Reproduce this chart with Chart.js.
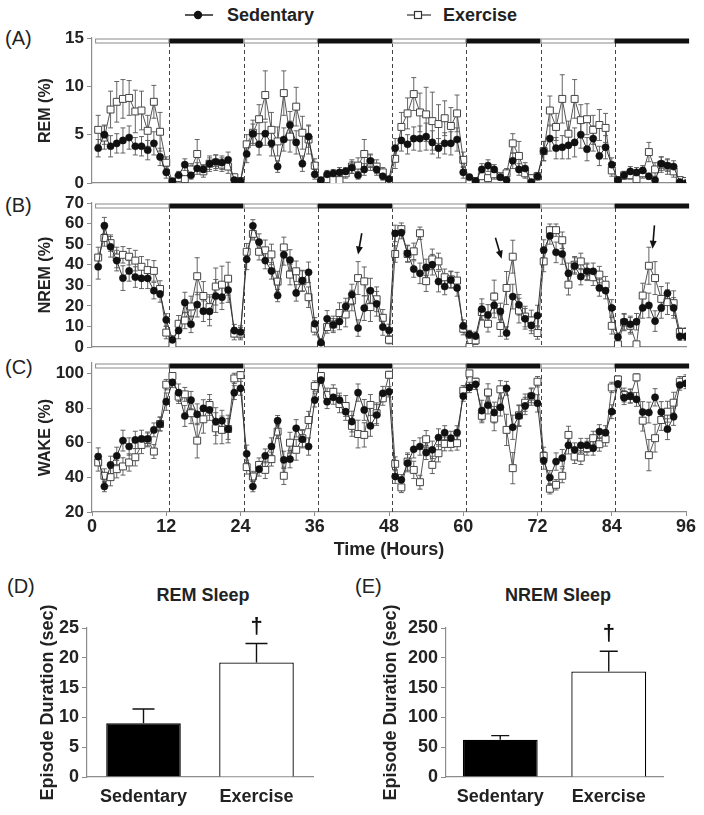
<!DOCTYPE html>
<html>
<head>
<meta charset="utf-8">
<script src="https://cdn.jsdelivr.net/npm/chart.js@4.4.1/dist/chart.umd.min.js"></script>
<style>
  body { margin: 0; background: #fff; font-family: "Liberation Sans", Arial, sans-serif; color: #222; }
  #page { position: relative; width: 704px; height: 815px; overflow: hidden; }
  canvas, .txt, svg { position: absolute; }
  .txt { line-height: 1; white-space: nowrap; }
  .panel { font-size: 20px; }
  .bold { font-size: 18px; font-weight: bold; }
</style>
</head>
<body>
<div id="page">
  <svg style="left:183px;top:5px" width="32" height="20"><line x1="2" y1="10" x2="30" y2="10" stroke="#222" stroke-width="1.5"/><circle cx="15" cy="10" r="4.2" fill="#111"/></svg>
  <div class="txt bold" style="left:227px;top:6px">Sedentary</div>
  <svg style="left:405px;top:5px" width="28" height="20"><line x1="2" y1="10" x2="26" y2="10" stroke="#333" stroke-width="1.2"/><rect x="9.5" y="6.5" width="7" height="7" fill="#fff" stroke="#333" stroke-width="1.2"/></svg>
  <div class="txt bold" style="left:443px;top:6px">Exercise</div>

  <div class="txt panel" style="left:5px;top:28px">(A)</div>
  <div class="txt panel" style="left:5px;top:195px">(B)</div>
  <div class="txt panel" style="left:5px;top:357px">(C)</div>
  <div class="txt panel" style="left:7px;top:576px">(D)</div>
  <div class="txt panel" style="left:355px;top:576px">(E)</div>
  <div class="txt bold" style="left:103px;top:586px;width:200px;text-align:center">REM Sleep</div>
  <div class="txt bold" style="left:458px;top:586px;width:200px;text-align:center">NREM Sleep</div>

  <canvas id="remChart" style="left:0;top:20px" width="704" height="170"></canvas>
  <canvas id="nremChart" style="left:0;top:185px" width="704" height="170"></canvas>
  <canvas id="wakeChart" style="left:0;top:348px" width="704" height="217"></canvas>
  <canvas id="remBar" style="left:0;top:600px" width="330" height="215"></canvas>
  <canvas id="nremBar" style="left:350px;top:600px" width="354" height="215"></canvas>
</div>
<script>
const hours = [1, 2, 3, 4, 5, 6, 7, 8, 9, 10, 11, 12, 13, 14, 15, 16, 17, 18, 19, 20, 21, 22, 23, 24,
    25, 26, 27, 28, 29, 30, 31, 32, 33, 34, 35, 36, 37, 38, 39, 40, 41, 42, 43, 44, 45, 46, 47, 48,
    49, 50, 51, 52, 53, 54, 55, 56, 57, 58, 59, 60, 61, 62, 63, 64, 65, 66, 67, 68, 69, 70, 71, 72,
    73, 74, 75, 76, 77, 78, 79, 80, 81, 82, 83, 84, 85, 86, 87, 88, 89, 90, 91, 92, 93, 94, 95, 96];
const hourTicks = [0, 12, 24, 36, 48, 60, 72, 84, 96];
const phaseEdges = [0.5, 12.5, 24.5, 36.5, 48.5, 60.5, 72.5, 84.5, 96.5];
const phaseNames = ['light', 'dark', 'light', 'dark', 'light', 'dark', 'light', 'dark'];

// REM (%)
const remSed = [3.6, 5.0, 3.8, 4.1, 4.4, 4.7, 3.8, 3.8, 3.4, 4.1, 2.7, 1.1,
    0.2, 0.8, 1.9, 0.8, 1.5, 1.4, 2.0, 2.2, 2.1, 2.4, 0.3, 0.2,
    3.0, 5.1, 4.0, 5.1, 4.1, 1.7, 4.5, 6.0, 4.2, 2.0, 4.8, 0.9,
    0.3, 0.9, 1.0, 1.1, 1.2, 1.6, 0.8, 1.4, 2.3, 1.4, 0.7, 0.4,
    3.6, 4.4, 4.0, 4.6, 4.6, 4.8, 4.2, 3.6, 4.1, 4.1, 4.5, 1.1,
    0.6, 0.2, 1.4, 1.8, 1.4, 0.6, 0.3, 2.3, 1.4, 1.5, 0.1, 0.7,
    3.3, 4.6, 3.6, 3.7, 3.9, 4.2, 5.0, 3.5, 4.6, 2.8, 3.7, 1.9,
    0.3, 0.8, 1.2, 1.1, 1.3, 0.7, 0.3, 2.0, 1.8, 1.7, 0.1, 0.0];
const remSedErr = [0.9, 1.0, 1.1, 1.0, 1.3, 1.2, 0.9, 1.0, 1.0, 1.2, 0.9, 0.6,
    0.2, 0.4, 0.6, 0.4, 0.6, 0.5, 0.6, 0.7, 0.7, 0.8, 0.2, 0.2,
    0.9, 1.0, 1.1, 1.2, 1.3, 0.6, 1.2, 1.4, 1.2, 0.8, 1.1, 0.5,
    0.2, 0.4, 0.4, 0.5, 0.4, 0.6, 0.4, 0.6, 0.7, 0.6, 0.4, 0.2,
    1.0, 1.1, 1.0, 1.2, 1.3, 1.4, 1.2, 1.0, 1.1, 1.2, 1.2, 0.6,
    0.3, 0.2, 0.6, 0.6, 0.5, 0.3, 0.2, 0.8, 0.6, 0.6, 0.1, 0.4,
    1.0, 1.3, 1.1, 1.2, 1.4, 1.5, 1.4, 1.2, 1.3, 1.0, 1.2, 0.7,
    0.2, 0.4, 0.5, 0.5, 0.5, 0.3, 0.2, 0.7, 0.6, 0.6, 0.1, 0.1];
const remEx = [5.5, 4.7, 7.6, 8.4, 8.7, 8.8, 7.4, 7.5, 5.4, 8.4, 5.3, 2.1,
    0.1, 0.5, 0.4, 1.4, 3.0, 1.2, 2.0, 2.1, 1.9, 1.7, 0.6, 0.2,
    4.0, 5.2, 6.6, 9.1, 5.5, 4.3, 9.3, 4.8, 7.9, 5.2, 4.5, 1.8,
    0.0, 0.4, 0.3, 0.3, 1.0, 1.7, 1.8, 3.0, 2.1, 1.7, 1.1, 0.2,
    2.5, 5.8, 7.2, 9.2, 7.3, 7.1, 6.4, 6.1, 6.7, 5.9, 7.2, 2.4,
    0.1, 0.2, 0.7, 0.5, 0.9, 0.7, 1.0, 4.1, 2.8, 1.0, 0.5, 0.7,
    3.3, 7.5, 5.8, 8.7, 5.1, 8.7, 6.5, 6.6, 5.5, 6.0, 5.7, 1.3,
    0.3, 0.8, 0.8, 0.4, 1.0, 3.2, 1.4, 1.9, 1.7, 1.2, 0.3, 0.2];
const remExErr = [1.5, 1.2, 1.9, 2.1, 2.0, 1.8, 2.2, 2.0, 1.6, 1.7, 2.0, 0.6,
    0.1, 0.3, 0.3, 0.6, 1.5, 0.6, 0.8, 0.8, 0.7, 0.7, 0.3, 0.1,
    1.0, 1.3, 1.5, 2.5, 1.8, 1.5, 2.3, 1.6, 2.0, 1.7, 1.5, 0.7,
    0.1, 0.2, 0.2, 0.3, 0.5, 0.7, 0.8, 1.5, 0.8, 0.7, 0.5, 0.1,
    1.0, 1.5, 1.6, 1.7, 2.0, 2.8, 3.0, 2.0, 1.8, 1.9, 1.9, 0.8,
    0.1, 0.1, 0.3, 0.3, 0.5, 0.3, 0.5, 1.0, 1.5, 0.5, 0.3, 0.3,
    1.0, 1.5, 1.4, 2.5, 1.3, 2.0, 1.6, 1.6, 1.5, 1.6, 1.5, 0.6,
    0.2, 0.4, 0.4, 0.3, 0.5, 1.0, 0.7, 0.8, 0.8, 0.6, 0.2, 0.2];
const remTicks = [0, 5, 10, 15];

// NREM (%)
const nremSed = [39, 59, 48.7, 42, 33.5, 37, 34, 33.4, 33.4, 27.4, 25.8, 13.2,
    3.5, 8, 21.6, 11, 20.6, 17.4, 17.3, 24.8, 24.2, 27.7, 8, 7.3,
    42.6, 58.9, 51, 42, 37, 25, 44.8, 42.3, 26.3, 32.3, 36.3, 11.3,
    2.1, 13.7, 10.8, 12.4, 19.7, 25.5, 9.2, 18.9, 27.4, 21, 9.7, 8.1,
    55.2, 55.6, 45.5, 37.9, 35.8, 38.7, 40, 31.8, 29.4, 32.6, 28.7, 10.2,
    6.1, 5.3, 18.4, 15.6, 20.2, 17.3, 6.8, 24.5, 20.5, 13.7, 10.5, 15.3,
    47.1, 54, 46, 45.2, 35.8, 39.4, 34.2, 36.8, 36.8, 28.7, 27.4, 19,
    4.8, 12.3, 11, 12.3, 19, 20.2, 12.6, 19, 26.1, 19, 5.2, 5.2];
const nremSedErr = [6, 4, 5, 5, 6, 5, 5, 5, 5, 4, 4, 3,
    2, 4, 5, 4, 6, 5, 7, 8, 6, 6, 3, 3,
    5, 3, 4, 4, 4, 3, 5, 5, 4, 5, 5, 3,
    2, 4, 3, 4, 4, 5, 4, 6, 6, 6, 4, 3,
    4, 3, 4, 4, 5, 4, 5, 5, 4, 4, 4, 3,
    2, 2, 5, 5, 6, 4, 3, 6, 5, 5, 4, 5,
    5, 4, 5, 5, 5, 4, 4, 4, 4, 4, 4, 4,
    2, 4, 4, 4, 5, 6, 5, 5, 5, 5, 2, 2];
const nremEx = [43.5, 53, 50.5, 43.5, 44.8, 43.9, 42, 39, 37.4, 37, 28.2, 7,
    1.3, 11.3, 12.9, 19.7, 34.4, 24.8, 19.4, 29.4, 30.3, 33.2, 6.5, 6.5,
    46.3, 55, 46.3, 47, 45, 31.8, 48.4, 35.2, 36.8, 32, 24.2, 8.9,
    0.6, 9.7, 11, 16.5, 15.8, 22.6, 33.5, 31.9, 19.4, 23.2, 14.2, 3.5,
    45.2, 57.3, 45.2, 46.5, 55.3, 32, 42.6, 41.6, 33.9, 32.9, 32.3, 8.9,
    0, 3.2, 17, 11.3, 24.5, 10.2, 28.7, 43.9, 17.7, 14.8, 12.9, 6.8,
    41.6, 56.8, 56.8, 51.9, 30.3, 40, 41.6, 36.3, 33.9, 35.2, 30.3, 10.3,
    1.3, 11.9, 10.3, 1.3, 25, 39.5, 33.5, 23.4, 21.8, 21.3, 7.3, 7.3];
const nremExErr = [5, 4, 4, 5, 4, 4, 5, 5, 5, 5, 4, 3,
    1, 4, 4, 5, 9, 7, 6, 9, 9, 8, 3, 3,
    4, 3, 4, 5, 5, 5, 5, 5, 5, 5, 5, 3,
    1, 3, 4, 5, 6, 5, 8, 7, 7, 6, 4, 2,
    4, 3, 4, 4, 3, 5, 5, 4, 4, 4, 4, 3,
    1, 2, 4, 4, 8, 5, 8, 8, 6, 5, 5, 3,
    5, 3, 3, 4, 5, 4, 4, 4, 4, 4, 4, 4,
    1, 4, 4, 1, 6, 9, 8, 6, 6, 6, 2, 2];
const nremTicks = [0, 10, 20, 30, 40, 50, 60, 70];
// arrows in panel B: [hour, % at tail, hour, % at head]
const nremArrows = [[43.6, 55.3, 43.0, 45.0], [65.2, 53.1, 66.2, 42.9], [90.9, 59.1, 90.6, 47.8]];

// WAKE (%)
const wakeSed = [52, 34.7, 47.2, 52.4, 61.2, 57.8, 61.6, 62.2, 62.2, 67.4, 70.8, 83.7,
    94.8, 88.9, 75.4, 84.6, 76.4, 79.8, 78.9, 72.2, 72.7, 67.9, 88.9, 91.4,
    53.6, 34.7, 44.7, 52.4, 57.8, 72.7, 50.1, 50.5, 68.3, 62, 57.8, 84.6,
    96.2, 83.7, 86.2, 84.6, 77.9, 72.2, 88.9, 78.9, 69.7, 76, 88.5, 89.4,
    40.5, 38.6, 48.2, 56.2, 57.8, 54.3, 55.9, 63, 65.8, 62.6, 65.8, 86.9,
    91.9, 93.7, 78.5, 81.6, 77.4, 80.4, 91.4, 68.9, 75.4, 81.2, 87.1, 82.7,
    49.7, 39.9, 49.1, 51.1, 58.5, 55.9, 58.5, 58.5, 56.8, 66.4, 65.8, 77.9,
    93.9, 86, 86.9, 85, 77.7, 77.4, 86.2, 77.7, 67.8, 75, 93.3, 94.2];
const wakeSedErr = [5, 3, 5, 5, 6, 5, 5, 5, 4, 4, 4, 5,
    3, 5, 6, 5, 6, 5, 6, 8, 6, 6, 4, 4,
    5, 3, 4, 4, 5, 3, 5, 5, 5, 5, 5, 4,
    2, 4, 4, 4, 5, 6, 5, 6, 6, 6, 4, 3,
    4, 3, 5, 5, 5, 4, 5, 5, 4, 4, 4, 3,
    3, 3, 6, 5, 6, 5, 4, 7, 6, 5, 4, 5,
    5, 4, 5, 5, 5, 4, 4, 4, 4, 4, 4, 4,
    2, 4, 4, 4, 6, 6, 5, 6, 6, 5, 3, 3];
const wakeEx = [48.6, 40.9, 40.1, 44.7, 46.3, 48.6, 51.6, 58.7, 61.6, 54.9, 70.8, 93.5,
    98.5, 86.6, 87.9, 77, 61.2, 73.5, 81.8, 68.3, 67.4, 67.9, 97.1, 99,
    45.9, 40.5, 47.2, 44.3, 50.5, 66.4, 40.9, 60, 55.9, 62.6, 73.1, 92.7,
    98.5, 87.5, 89.4, 82.3, 81.2, 69.7, 65, 64.5, 81.8, 77, 85.6, 99.2,
    47.8, 34.2, 49.1, 44.3, 37.2, 62, 47.2, 53.9, 59.3, 59.3, 59.7, 90,
    100, 95.2, 75.5, 89, 73.9, 90.8, 67.4, 45.3, 75.8, 83.1, 86.6, 95.2,
    52.4, 33.4, 35.7, 40.9, 64.5, 52, 51.4, 56.8, 62.6, 59.1, 62, 91.9,
    96.5, 87.5, 86.9, 97.7, 72.7, 52.8, 62.6, 73.1, 77.9, 83.1, 95.2, 96.2];
const wakeExErr = [5, 4, 5, 5, 5, 5, 5, 5, 4, 4, 4, 3,
    1, 4, 4, 6, 10, 8, 6, 9, 8, 8, 3, 2,
    4, 3, 4, 5, 4, 4, 5, 6, 6, 5, 5, 3,
    2, 4, 4, 5, 6, 6, 8, 7, 6, 6, 4, 2,
    4, 3, 5, 5, 4, 5, 5, 5, 4, 4, 4, 3,
    1, 2, 4, 5, 7, 5, 9, 9, 6, 5, 5, 3,
    5, 3, 3, 4, 5, 4, 4, 4, 4, 4, 4, 3,
    2, 4, 4, 2, 6, 9, 8, 6, 6, 6, 3, 3];
const wakeTicks = [20, 40, 60, 80, 100];

// episode durations (sec)
const groups = ['Sedentary', 'Exercise'];
const remDuration = [9.0, 19.2];
const remDurationErr = [2.4, 3.2];
const remDurationTicks = [0, 5, 10, 15, 20, 25];
const nremDuration = [62.5, 177];
const nremDurationErr = [7, 34];
const nremDurationTicks = [0, 50, 100, 150, 200, 250];
const significance = ['', '\u2020'];

Chart.defaults.font.family = '"Liberation Sans", Arial, sans-serif';
Chart.defaults.color = '#222';
Chart.defaults.animation = false;
const axisGray = '#8c8c8c';

// light/dark bar along the top and dashed phase boundaries
const phasePlugin = {
    id: 'phases',
    beforeDatasetsDraw: (chart) => {
        const { ctx, chartArea: a, scales: { x } } = chart;
        ctx.save();
        ctx.setLineDash([4, 3]);
        ctx.strokeStyle = '#444';
        ctx.lineWidth = 1;
        phaseEdges.slice(1, -1).forEach((h) => {
            const px = Math.round(x.getPixelForValue(h)) + 0.5;
            ctx.beginPath();
            ctx.moveTo(px, a.top + 5);
            ctx.lineTo(px, a.bottom);
            ctx.stroke();
        });
        ctx.restore();
    },
    afterDatasetsDraw: (chart) => {
        const { ctx, chartArea: a, scales: { x } } = chart;
        ctx.save();
        phaseNames.forEach((name, i) => {
            const x0 = x.getPixelForValue(phaseEdges[i]);
            const x1 = x.getPixelForValue(phaseEdges[i + 1]);
            if (name === 'dark') {
                ctx.fillStyle = '#111';
                ctx.fillRect(x0, a.top + 0.5, x1 - x0, 5);
            } else {
                ctx.fillStyle = '#fff';
                ctx.fillRect(x0, a.top + 0.5, x1 - x0, 5);
                ctx.strokeStyle = '#8a8a8a';
                ctx.lineWidth = 1;
                ctx.strokeRect(x0 + 0.5, a.top + 1, x1 - x0 - 1, 4);
            }
        });
        ctx.restore();
    }
};

// +/- SEM whiskers behind the points
const errorPlugin = {
    id: 'errorBars',
    beforeDatasetsDraw: (chart) => {
        const { ctx, chartArea: a, scales: { y } } = chart;
        ctx.save();
        ctx.beginPath();
        ctx.rect(a.left, a.top, a.right - a.left, a.bottom - a.top);
        ctx.clip();
        ctx.strokeStyle = '#555';
        ctx.lineWidth = 0.9;
        chart.data.datasets.forEach((ds, di) => {
            chart.getDatasetMeta(di).data.forEach((pt, i) => {
                const v = ds.data[i].y, e = ds.errors[i];
                const top = y.getPixelForValue(v + e), bot = y.getPixelForValue(v - e);
                ctx.beginPath();
                ctx.moveTo(pt.x, top); ctx.lineTo(pt.x, bot);
                ctx.moveTo(pt.x - 2.5, top); ctx.lineTo(pt.x + 2.5, top);
                ctx.moveTo(pt.x - 2.5, bot); ctx.lineTo(pt.x + 2.5, bot);
                ctx.stroke();
            });
        });
        ctx.restore();
    }
};

const arrowPlugin = {
    id: 'arrows',
    afterDatasetsDraw: (chart, args, opts) => {
        const { ctx, scales: { x, y } } = chart;
        ctx.save();
        ctx.strokeStyle = '#111';
        ctx.fillStyle = '#111';
        ctx.lineWidth = 1.6;
        (opts.list || []).forEach(([h0, v0, h1, v1]) => {
            const x0 = x.getPixelForValue(h0), y0 = y.getPixelForValue(v0);
            const x1 = x.getPixelForValue(h1), y1 = y.getPixelForValue(v1);
            const ang = Math.atan2(y1 - y0, x1 - x0);
            ctx.beginPath();
            ctx.moveTo(x0, y0);
            ctx.lineTo(x1 - 5 * Math.cos(ang), y1 - 5 * Math.sin(ang));
            ctx.stroke();
            ctx.beginPath();
            ctx.moveTo(x1, y1);
            ctx.lineTo(x1 - 8 * Math.cos(ang) + 3.5 * Math.sin(ang), y1 - 8 * Math.sin(ang) - 3.5 * Math.cos(ang));
            ctx.lineTo(x1 - 8 * Math.cos(ang) - 3.5 * Math.sin(ang), y1 - 8 * Math.sin(ang) + 3.5 * Math.cos(ang));
            ctx.closePath();
            ctx.fill();
        });
        ctx.restore();
    }
};

// upward error bar + significance mark on the duration bars
const barErrorPlugin = {
    id: 'barErrors',
    afterDatasetsDraw: (chart, args, opts) => {
        const { ctx, scales: { y } } = chart;
        const ds = chart.data.datasets[0];
        ctx.save();
        ctx.strokeStyle = '#111';
        ctx.fillStyle = '#111';
        ctx.lineWidth = 1.4;
        chart.getDatasetMeta(0).data.forEach((bar, i) => {
            const top = y.getPixelForValue(ds.data[i] + opts.errors[i]);
            ctx.beginPath();
            ctx.moveTo(bar.x, bar.y); ctx.lineTo(bar.x, top);
            ctx.moveTo(bar.x - opts.cap, top); ctx.lineTo(bar.x + opts.cap, top);
            ctx.stroke();
            if (opts.marks[i]) {
                ctx.font = 'bold 22px "Liberation Sans", Arial, sans-serif';
                ctx.textAlign = 'center';
                ctx.textBaseline = 'bottom';
                ctx.fillText(opts.marks[i], bar.x, top - 6);
            }
        });
        ctx.restore();
    }
};

// keep the plot area where the layout puts it: no extra room for half tick labels
const noYPad = (w) => (s) => { s.width = w; s.paddingTop = 0; s.paddingBottom = 0; };
const noXPad = (h) => (s) => { s.height = h; s.paddingLeft = 0; s.paddingRight = 0; };

const sleep = {
    init: () => {
        sleep.timeline('remChart', { sed: remSed, sedErr: remSedErr, ex: remEx, exErr: remExErr,
            min: 0, max: 15, ticks: remTicks, title: 'REM (%)', padTop: 18, xHeight: 7, showX: false });
        sleep.timeline('nremChart', { sed: nremSed, sedErr: nremSedErr, ex: nremEx, exErr: nremExErr,
            min: 0, max: 70, ticks: nremTicks, title: 'NREM (%)', padTop: 18, xHeight: 8, showX: false, arrows: nremArrows });
        sleep.timeline('wakeChart', { sed: wakeSed, sedErr: wakeSedErr, ex: wakeEx, exErr: wakeExErr,
            min: 20, max: 106, ticks: wakeTicks, title: 'WAKE (%)', padTop: 15, xHeight: 53, showX: true });
        sleep.duration('remBar', { values: remDuration, errors: remDurationErr, max: 25, ticks: remDurationTicks,
            yWidth: 87, padRight: 17, titlePad: 37, barPct: 0.66, cap: 11 });
        sleep.duration('nremBar', { values: nremDuration, errors: nremDurationErr, max: 250, ticks: nremDurationTicks,
            yWidth: 96, padRight: 41, titlePad: 30, barPct: 0.69, cap: 9 });
    },
    timeline: (id, cfg) => {
        const ctx = document.getElementById(id).getContext('2d');
        new Chart(ctx, {
            type: 'line',
            data: {
                datasets: [{
                    label: 'Sedentary',
                    data: hours.map((h, i) => ({ x: h, y: cfg.sed[i] })),
                    errors: cfg.sedErr,
                    borderColor: '#333',
                    borderWidth: 1,
                    pointStyle: 'circle',
                    pointRadius: 3.6,
                    pointBackgroundColor: '#111',
                    pointBorderColor: '#111',
                    pointBorderWidth: 0.5
                }, {
                    label: 'Exercise',
                    data: hours.map((h, i) => ({ x: h, y: cfg.ex[i] })),
                    errors: cfg.exErr,
                    borderColor: '#555',
                    borderWidth: 1,
                    pointStyle: 'rect',
                    pointRadius: 4.9,
                    pointBackgroundColor: '#fff',
                    pointBorderColor: '#444',
                    pointBorderWidth: 1
                }]
            },
            options: {
                responsive: false,
                layout: { padding: { top: cfg.padTop, right: 18, left: 0, bottom: 0 } },
                plugins: {
                    legend: { display: false },
                    tooltip: { enabled: false },
                    arrows: { list: cfg.arrows || [] }
                },
                scales: {
                    x: {
                        type: 'linear',
                        min: 0,
                        max: 96,
                        afterFit: noXPad(cfg.xHeight),
                        afterBuildTicks: (s) => { s.ticks = hourTicks.map((value) => ({ value })); },
                        ticks: { display: cfg.showX, font: { size: 18, weight: 'bold' }, padding: 0, maxRotation: 0, autoSkip: false },
                        grid: { drawOnChartArea: false, drawTicks: cfg.showX, tickLength: 4, color: axisGray },
                        border: { color: axisGray, width: 1.2 },
                        title: { display: cfg.showX, text: 'Time (Hours)', font: { size: 18, weight: 'bold' }, padding: { top: 0, bottom: 4 } }
                    },
                    y: {
                        min: cfg.min,
                        max: cfg.max,
                        afterFit: noYPad(92),
                        afterBuildTicks: (s) => { s.ticks = cfg.ticks.map((value) => ({ value })); },
                        ticks: { font: { size: 17, weight: 'bold' }, padding: 3, autoSkip: false },
                        grid: { drawOnChartArea: false, tickLength: 5, color: axisGray },
                        border: { color: axisGray, width: 1.2 },
                        title: { display: true, text: cfg.title, font: { size: 16, weight: 'bold' }, padding: { top: 36, bottom: 0 } }
                    }
                }
            },
            plugins: [phasePlugin, errorPlugin, arrowPlugin]
        });
    },
    duration: (id, cfg) => {
        const ctx = document.getElementById(id).getContext('2d');
        new Chart(ctx, {
            type: 'bar',
            data: {
                labels: groups,
                datasets: [{
                    data: cfg.values,
                    backgroundColor: ['#000', '#fff'],
                    borderColor: '#000',
                    borderWidth: 1.3,
                    barPercentage: cfg.barPct,
                    categoryPercentage: 1
                }]
            },
            options: {
                responsive: false,
                layout: { padding: { top: 28, right: cfg.padRight, left: 0, bottom: 0 } },
                plugins: {
                    legend: { display: false },
                    tooltip: { enabled: false },
                    barErrors: { errors: cfg.errors, marks: significance, cap: cfg.cap }
                },
                scales: {
                    x: {
                        afterFit: noXPad(38),
                        grid: { display: false, drawTicks: false },
                        border: { color: axisGray, width: 1.2 },
                        ticks: { font: { size: 18, weight: 'bold' }, padding: 9 }
                    },
                    y: {
                        min: 0,
                        max: cfg.max,
                        afterFit: noYPad(cfg.yWidth),
                        afterBuildTicks: (s) => { s.ticks = cfg.ticks.map((value) => ({ value })); },
                        ticks: { font: { size: 18, weight: 'bold' }, padding: 3, autoSkip: false },
                        grid: { drawOnChartArea: false, tickLength: 5, color: axisGray },
                        border: { color: axisGray, width: 1.2 },
                        title: { display: true, text: 'Episode Duration (sec)', font: { size: 18, weight: 'bold' }, padding: { top: cfg.titlePad, bottom: 0 } }
                    }
                }
            },
            plugins: [barErrorPlugin]
        });
    }
};

sleep.init();
</script>
</body>
</html>
